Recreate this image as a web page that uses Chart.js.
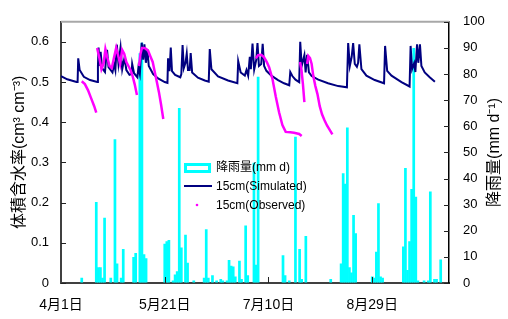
<!DOCTYPE html>
<html>
<head>
<meta charset="utf-8">
<script src="https://cdn.jsdelivr.net/npm/chart.js@4.4.0/dist/chart.umd.min.js"></script>
<style>
  html, body { margin: 0; padding: 0; background: #fff; }
</style>
</head>
<body>
<canvas id="chart" width="508" height="319"></canvas>
<script>
// x axis: days since 4月1日
const dateTicks = [0, 50, 100, 150];
const dateLabels = ['4月1日', '5月21日', '7月10日', '8月29日'];
const moistureTicks = [0, 0.1, 0.2, 0.3, 0.4, 0.5, 0.6];
const rainTicks = [0, 10, 20, 30, 40, 50, 60, 70, 80, 90, 100];

// daily rainfall (mm d-1), only rainy days listed
const rainDays = [10, 17, 18, 19, 20, 21, 24, 26, 27, 29, 30, 35, 36, 38, 39, 40, 41,
  50, 51, 52, 54, 55, 56, 57, 58, 60, 61, 64, 69, 70, 71, 73, 75, 77, 78, 80,
  81, 82, 83, 84, 86, 87, 89, 90, 93, 94, 95, 107, 108, 110, 113, 115, 116, 118,
  130, 135, 136, 137, 138, 139, 140, 141, 142, 150, 151, 152, 153, 154, 155,
  165, 166, 167, 168, 169, 170, 171, 172, 175, 177, 178, 180, 181, 183];
const rainMm = [2, 31, 6, 6, 2, 25, 2, 55, 7.5, 2, 13, 10, 11.5, 88, 92, 11, 9.5,
  15, 16, 16.5, 1, 3.3, 4.5, 67, 13.6, 18.5, 7.8, 1, 2, 20.6, 2, 3, 1, 1.5, 1, 1,
  8.8, 6.6, 6.3, 2.5, 8.5, 1.5, 22, 3, 46, 7, 79, 10.6, 3, 1, 56, 13, 1.5, 18,
  1.5, 7.5, 42, 38, 59.5, 6, 4, 26, 19, 2.5, 2, 12, 30.5, 2.5, 2,
  14, 44, 5, 16, 36, 90, 33, 1, 1, 1, 35, 1.5, 1.5, 9];

// simulated volumetric water content at 15 cm
const simDays = [0, 3, 7.5, 8, 8.3, 9, 11, 14, 17.5, 17.8, 18.1, 18.6, 19.1, 19.8, 21.2, 21.6,
  22.2, 22.9, 24.8, 25.6, 26.2, 26.9, 27.7, 28.7, 29.5, 30.1, 30.6, 31.5, 33, 34, 34.3, 35.2,
  36.8, 37.3, 38, 38.9, 39.6, 40.2, 40.9, 41.6, 42.3, 44.4, 46.8, 50, 51.3, 51.6, 52.3, 52.9,
  53.5, 55, 57.5, 58, 58.6, 59.2, 60, 60.6, 61.2, 62, 62.5, 63.2, 66, 69.3, 71.2, 71.7,
  72.5, 75.7, 80.5, 85, 85.4, 86.6, 88.6, 89.4, 90.2, 91, 91.5, 92.3, 93.1, 94.1, 94.7,
  95.4, 96.5, 97.2, 97.9, 99, 101.4, 104.6, 107.5, 110, 110.5, 111.5, 113, 114.8, 115.3,
  116, 117.3, 117.9, 118.6, 119.5, 120.8, 124, 128.7, 133.6, 137.8, 138.4, 139.2, 140.1,
  140.8, 141.6, 142.6, 143.2, 143.8, 144.8, 147.2, 151.2, 155.7, 156.2, 157.2, 159.3,
  164.1, 168, 168.5, 169.2, 170.2, 170.8, 171.6, 172.2, 173, 173.7, 175.3, 177.7, 180.2];
const simTheta = [0.515, 0.507, 0.5, 0.5, 0.559, 0.53, 0.513, 0.505, 0.5, 0.54, 0.586, 0.54, 0.575, 0.535, 0.525, 0.55,
  0.58, 0.537, 0.524, 0.545, 0.53, 0.593, 0.545, 0.586, 0.532, 0.548, 0.56, 0.53, 0.518, 0.52, 0.545, 0.522,
  0.512, 0.536, 0.52, 0.598, 0.556, 0.594, 0.548, 0.582, 0.54, 0.52, 0.509, 0.5, 0.498, 0.559, 0.527, 0.586,
  0.527, 0.518, 0.512, 0.52, 0.592, 0.535, 0.548, 0.571, 0.53, 0.53, 0.572, 0.524, 0.511, 0.504, 0.501, 0.582,
  0.532, 0.514, 0.504, 0.497, 0.552, 0.524, 0.516, 0.53, 0.516, 0.563, 0.532, 0.596, 0.531, 0.555, 0.597,
  0.54, 0.545, 0.595, 0.54, 0.528, 0.516, 0.505, 0.497, 0.492, 0.525, 0.515, 0.506, 0.5, 0.6,
  0.54, 0.567, 0.524, 0.568, 0.524, 0.515, 0.506, 0.497, 0.49, 0.487, 0.597, 0.54, 0.563,
  0.597, 0.545, 0.538, 0.548, 0.594, 0.532, 0.516, 0.505, 0.497, 0.59, 0.528, 0.516,
  0.5, 0.489, 0.59, 0.532, 0.547, 0.525, 0.594, 0.548, 0.594, 0.54, 0.524, 0.512, 0.501];

// observed water content at 15 cm (null = gap in the record)
const obsDays = [10, 11.5, 13, 14.5, 16, 17, 17,
  17.4, 18.5, 19.5, 20.5, 21.4, 22.4, 23.4, 24.5, 25.5, 26.6, 27.6, 28.5, 29.5, 30.5, 31.5, 32.5, 33.5, 34.5, 35.5, 36.6, 36.6,
  37.6, 38.3, 39, 40, 41, 42, 43, 44.2, 45.2, 46.2, 47.2, 48.2, 49.3, 49.3,
  93.9, 95, 96.5, 97.8, 99.2, 100.3, 101.9, 103.5, 105.1, 106.7, 108.3, 110.5, 112.3, 114.8, 116, 116,
  115.2, 115.9, 116.6, 117.3, 117.3,
  118.6, 119.2, 120, 120.8, 121.6, 122.6, 123.6, 124.7, 125.8, 127, 128.2, 129.5, 130.8];
const obsTheta = [0.502, 0.495, 0.48, 0.46, 0.44, 0.424, null,
  0.585, 0.56, 0.532, 0.545, 0.582, 0.56, 0.54, 0.535, 0.56, 0.585, 0.565, 0.545, 0.58, 0.57, 0.55, 0.54, 0.53, 0.515, 0.495, 0.468, null,
  0.54, 0.57, 0.585, 0.585, 0.583, 0.578, 0.565, 0.55, 0.525, 0.5, 0.475, 0.445, 0.408, null,
  0.559, 0.567, 0.568, 0.562, 0.55, 0.537, 0.508, 0.464, 0.425, 0.393, 0.376, 0.375, 0.374, 0.371, 0.366, null,
  0.55, 0.53, 0.495, 0.45, null,
  0.545, 0.565, 0.56, 0.545, 0.515, 0.49, 0.47, 0.44, 0.42, 0.405, 0.392, 0.381, 0.37];

const FONT = '"Liberation Sans", "Noto Sans CJK JP", sans-serif';

// top frame line, inward tick marks, right-hand title and the legend inside the plot
const decorations = {
  id: 'decorations',
  afterDraw(chart) {
    const { ctx, chartArea: a, scales } = chart;
    ctx.save();
    ctx.strokeStyle = '#a8a8a8';
    ctx.lineWidth = 2;
    ctx.beginPath();
    ctx.moveTo(a.left, a.top);
    ctx.lineTo(a.right, a.top);
    ctx.stroke();

    ctx.strokeStyle = '#222';
    ctx.lineWidth = 1;
    ctx.beginPath();
    moistureTicks.forEach(v => {
      const y = Math.round(scales.y.getPixelForValue(v)) + 0.5;
      ctx.moveTo(a.left, y); ctx.lineTo(a.left + 5, y);
    });
    rainTicks.forEach(v => {
      const y = Math.round(scales.y2.getPixelForValue(v)) + 0.5;
      ctx.moveTo(a.right, y); ctx.lineTo(a.right - 5, y);
    });
    dateTicks.slice(1).forEach(d => {
      const x = Math.round(scales.x.getPixelForValue(d)) + 0.5;
      ctx.moveTo(x, a.bottom); ctx.lineTo(x, a.bottom - 6);
    });
    ctx.stroke();

    // right axis title, read bottom to top like the left one
    ctx.save();
    ctx.translate(495, (a.top + a.bottom) / 2);
    ctx.rotate(-Math.PI / 2);
    ctx.fillStyle = '#000';
    ctx.font = '16px ' + FONT;
    ctx.textAlign = 'center';
    ctx.textBaseline = 'middle';
    ctx.fillText('降雨量(mm d⁻¹)', 0, 0);
    ctx.restore();

    // legend
    const lx = a.left + 123, tx = a.left + 155;
    ctx.strokeStyle = '#00ffff';
    ctx.lineWidth = 3;
    ctx.strokeRect(lx + 1.5, 164.5, 24, 7);
    ctx.strokeStyle = '#000080';
    ctx.lineWidth = 2;
    ctx.beginPath();
    ctx.moveTo(lx, 186); ctx.lineTo(lx + 28, 186);
    ctx.stroke();
    ctx.fillStyle = '#ff00ff';
    ctx.beginPath();
    ctx.arc(lx + 13, 205, 1.3, 0, Math.PI * 2);
    ctx.fill();

    ctx.fillStyle = '#000';
    ctx.font = '12px ' + FONT;
    ctx.textBaseline = 'middle';
    ctx.fillText('降雨量(mm d)', tx, 168);
    ctx.fillText('15cm(Simulated)', tx, 187);
    ctx.fillText('15cm(Observed)', tx, 206);
    ctx.restore();
  }
};

new Chart(document.getElementById('chart'), {
  data: {
    datasets: [
      {
        type: 'line',
        label: '15cm(Observed)',
        data: obsDays.map((d, i) => ({ x: d, y: obsTheta[i] })),
        yAxisID: 'y',
        borderColor: '#ff00ff',
        borderWidth: 2.5,
        pointRadius: 0,
        spanGaps: false,
        order: 1
      },
      {
        type: 'line',
        label: '15cm(Simulated)',
        data: simDays.map((d, i) => ({ x: d, y: simTheta[i] })),
        yAxisID: 'y',
        borderColor: '#000080',
        borderWidth: 2,
        pointRadius: 0,
        order: 2
      },
      {
        type: 'bar',
        label: '降雨量(mm d)',
        data: rainDays.map((d, i) => ({ x: d, y: rainMm[i] })),
        yAxisID: 'y2',
        backgroundColor: '#00ffff',
        borderWidth: 0,
        barPercentage: 1.3,
        categoryPercentage: 1,
        order: 3
      }
    ]
  },
  options: {
    responsive: false,
    animation: false,
    layout: { padding: { top: 9 } },
    plugins: { legend: { display: false }, tooltip: { enabled: false } },
    scales: {
      x: {
        type: 'linear',
        min: 0,
        max: 187,
        offset: false,
        afterBuildTicks: s => { s.ticks = dateTicks.map(v => ({ value: v })); },
        afterFit: s => { s.height = 36; },
        grid: { drawOnChartArea: false, drawTicks: false, offset: false },
        border: { color: '#404040', width: 2 },
        ticks: {
          autoSkip: false,
          maxRotation: 0,
          padding: 14,
          color: '#000',
          font: { family: FONT, size: 14 },
          callback: v => dateLabels[dateTicks.indexOf(v)]
        }
      },
      y: {
        position: 'left',
        min: 0,
        max: 0.65,
        afterBuildTicks: s => { s.ticks = moistureTicks.map(v => ({ value: v })); },
        afterFit: s => { s.width = 61; },
        grid: { drawOnChartArea: false, drawTicks: false },
        border: { color: '#404040', width: 2 },
        ticks: {
          padding: 12,
          color: '#000',
          font: { family: FONT, size: 13 },
          callback: v => v === 0 ? '0' : v.toFixed(1)
        },
        title: {
          display: true,
          text: '体積含水率(cm³ cm⁻³)',
          color: '#000',
          font: { family: FONT, size: 16 },
          padding: { top: 10, bottom: 0 }
        }
      },
      y2: {
        position: 'right',
        min: 0,
        max: 100,
        afterBuildTicks: s => { s.ticks = rainTicks.map(v => ({ value: v })); },
        afterFit: s => { s.width = 59; },
        grid: { drawOnChartArea: false, drawTicks: false },
        border: { color: '#000', width: 1.5 },
        ticks: {
          padding: 14,
          color: '#000',
          font: { family: FONT, size: 13 }
        }
      }
    }
  },
  plugins: [decorations]
});
</script>
</body>
</html>
